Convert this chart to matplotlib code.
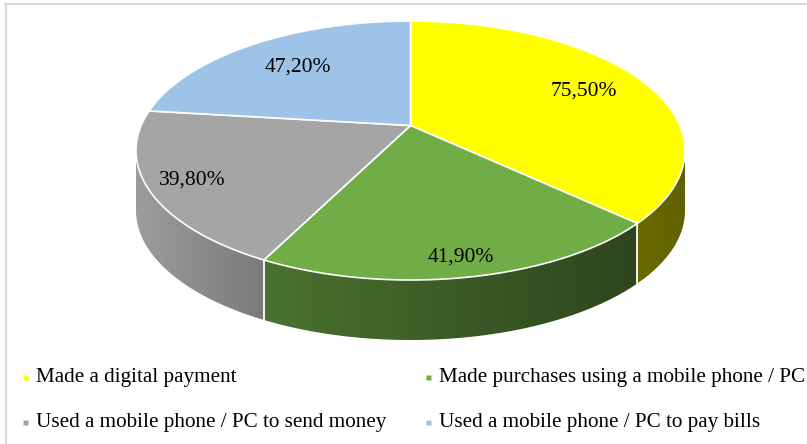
import numpy as np
import matplotlib
matplotlib.use("Agg")
import matplotlib.pyplot as plt
from matplotlib.patches import Polygon
from matplotlib.colors import to_rgb

# ---- data ----
labels = ["Made a digital payment",
          "Made purchases using a mobile phone / PC",
          "Used a mobile phone / PC to send money",
          "Used a mobile phone / PC to pay bills"]
values = [75.5, 41.9, 39.8, 47.2]
colors = ["#FFFF00", "#70AD47", "#A5A5A5", "#9DC3E6"]
side_shade = [(0.42, 0.38), (0.66, 0.40), (0.95, 0.74), (0.9, 0.9)]  # left/right darkening of rim
lab_r = [0.74, 0.89, 0.85, 0.69]

# ---- geometry (pixel space) ----
CX, CY, RX, RY = 410.5, 150.5, 274.5, 129.5
B = 0.193; G = 1/np.sqrt(1-B**2)   # perspective tilt
DEPTH = 60
SERIF = "Liberation Serif"

def proj(x, y):
    d = 1 + B*y
    return CX + RX*x/(G*d), CY - RY*(y+B)/d

fig = plt.figure(figsize=(8.07, 4.44), dpi=100)
ax = fig.add_axes([0, 0, 1, 1])

frac = np.array(values)/sum(values)
edges = np.deg2rad(90 - 360*np.concatenate([[0], np.cumsum(frac)]))

# rim first
for i, c in enumerate(colors):
    phi = np.linspace(edges[i], edges[i+1], 600)
    x, y = proj(np.cos(phi), np.sin(phi))
    vis = y >= CY
    if vis.sum() < 2:
        continue
    x, y = x[vis], y[vis]
    pts = np.vstack([np.c_[x, y], np.c_[x[::-1], y[::-1]+DEPTH]])
    poly = Polygon(pts, closed=True, fc="none", ec="none")
    ax.add_patch(poly)
    f = np.linspace(side_shade[i][0], side_shade[i][1], 200)
    img = (np.array(to_rgb(c))[None, :]*f[:, None])[None, :, :]
    im = ax.imshow(img, extent=(x.min(), x.max(), y.max()+DEPTH, y.min()),
                   aspect="auto", interpolation="bilinear", zorder=1)
    im.set_clip_path(poly)

# white seams on the rim
for e in edges[1:-1]:
    x, y = proj(np.cos(e), np.sin(e))
    if y >= CY:
        ax.plot([x, x], [y, y+DEPTH], color="white", lw=1.3, zorder=2)

# top faces
ax0 = proj(0, 0)
for i, c in enumerate(colors):
    phi = np.linspace(edges[i], edges[i+1], 200)
    x, y = proj(np.cos(phi), np.sin(phi))
    pts = np.vstack([[ax0], np.c_[x, y]])
    ax.add_patch(Polygon(pts, closed=True, fc=c, ec="white", lw=1.2,
                         joinstyle="round", zorder=3))
    mid = (edges[i]+edges[i+1])/2
    tx, ty = proj(lab_r[i]*np.cos(mid), lab_r[i]*np.sin(mid))
    ax.text(tx, ty, f"{values[i]:.2f}%".replace(".", ","), family=SERIF,
            fontsize=15.5, ha="center", va="center", zorder=4)

# legend
leg_pos = [(25, 377), (428, 377), (25, 422), (428, 422)]
for (lx, ly), lab, c in zip(leg_pos, labels, colors):
    ax.plot(lx, ly, marker="s", ms=3.6, color=c, mec="none")
    ax.text(lx+11, ly, lab, family=SERIF, fontsize=15.2, ha="left", va="center")

# frame
ax.plot([5, 807], [4.5, 4.5], color="#d9d9d9", lw=1.5)
ax.plot([5.5, 5.5], [4, 444], color="#d9d9d9", lw=1.5)

ax.set_xlim(0, 807); ax.set_ylim(444, 0)
ax.axis("off")
fig.savefig("out.png", dpi=100)
